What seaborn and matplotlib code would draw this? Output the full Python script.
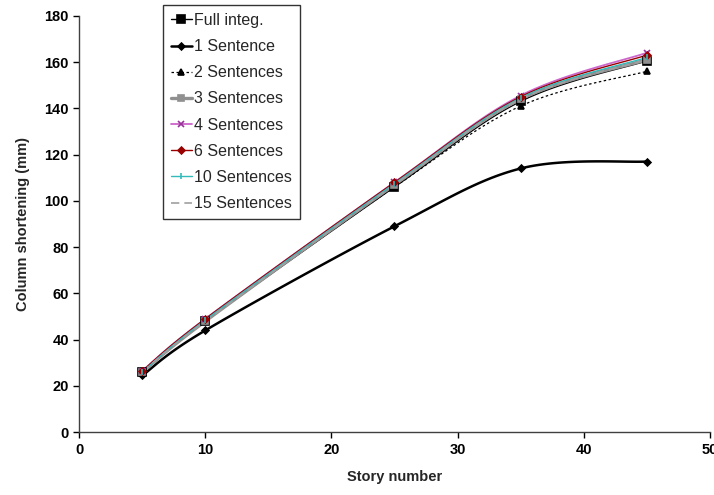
import numpy as np
import pandas as pd
import matplotlib
matplotlib.use("Agg")
import matplotlib.pyplot as plt
from matplotlib.lines import Line2D
import seaborn as sns

stories = [5, 10, 25, 35, 45]
full_integ = [26, 48, 106, 143, 160.5]
sent_1 = [24.5, 44, 89, 114, 117]
sent_2 = [26, 48, 106, 141, 156]
sent_3 = [26, 48, 107, 144, 161]
sent_4 = [26.5, 49, 108, 145.5, 164]
sent_6 = [26.5, 49, 108, 145, 163]
sent_10 = [26, 48.5, 107.5, 144.5, 162]
sent_15 = [26, 48, 107, 144, 161]

series = [
    ("Full integ.", full_integ, dict(color="black", lw=1.0, ls="-", marker="s", ms=6, mfc="black", mec="black")),
    ("1 Sentence", sent_1, dict(color="black", lw=1.8, ls="-", marker="D", ms=3.5, mfc="black", mec="black")),
    ("2 Sentences", sent_2, dict(color="black", lw=0.9, ls=(0, (2, 2)), marker="^", ms=5, mfc="black", mec="black")),
    ("3 Sentences", sent_3, dict(color="#909090", lw=2.4, ls="-", marker="s", ms=4, mfc="#909090", mec="#909090")),
    ("4 Sentences", sent_4, dict(color="#CC66CC", lw=1.3, ls="-", marker="x", ms=4, mfc="#993399", mec="#993399")),
    ("6 Sentences", sent_6, dict(color="#990000", lw=1.0, ls="-", marker="D", ms=3.5, mfc="#990000", mec="#990000")),
    ("10 Sentences", sent_10, dict(color="#33BBBB", lw=1.0, ls="-", marker="|", ms=5, mfc="#33BBBB", mec="#33BBBB")),
    ("15 Sentences", sent_15, dict(color="#A0A0A0", lw=1.2, ls=(0, (5, 3)), marker=None)),
]


def smooth(xs, ys, n=30):
    """Excel-style smoothed curve (cubic Bezier through data points)."""
    pts = np.column_stack([xs, ys]).astype(float)
    out = [pts[0]]
    m = len(pts)
    for i in range(m - 1):
        p0 = pts[i - 1] if i > 0 else pts[i]
        p1 = pts[i]
        p2 = pts[i + 1]
        p3 = pts[i + 2] if i + 2 < m else pts[i + 1]
        c1 = p1 + (p2 - p0) / 6.0
        c2 = p2 - (p3 - p1) / 6.0
        t = np.linspace(0, 1, n)[1:, None]
        b = ((1 - t) ** 3) * p1 + 3 * ((1 - t) ** 2) * t * c1 + 3 * (1 - t) * t ** 2 * c2 + t ** 3 * p2
        out.extend(b)
    out = np.array(out)
    return out[:, 0], out[:, 1]


sns.set_style("ticks")
plt.rcParams["font.family"] = ["Liberation Sans", "DejaVu Sans"]

fig = plt.figure(figsize=(7.14, 4.95), dpi=100)
ax = fig.add_axes([0.111, 0.127, 0.883, 0.841])

handles = []
for name, vals, st in series:
    sx, sy = smooth(stories, vals)
    sns.lineplot(x=sx, y=sy, ax=ax, color=st["color"], lw=st["lw"], ls=st["ls"],
                 sort=False, estimator=None, legend=False, zorder=3)
    if st.get("marker"):
        ax.plot(stories, vals, ls="none", marker=st["marker"], ms=st["ms"],
                mfc=st["mfc"], mec=st["mec"], mew=1.2, zorder=4)
    handles.append(Line2D([0], [0], color=st["color"], lw=st["lw"], ls=st["ls"],
                          marker=st.get("marker"), ms=st.get("ms", 0),
                          mfc=st.get("mfc"), mec=st.get("mec"), mew=1.2))

ax.set_xlim(0, 50)
ax.set_ylim(0, 180)
ax.set_xticks(range(0, 51, 10))
ax.set_yticks(range(0, 181, 20))
ax.tick_params(direction="out", length=4, width=1, colors="black", labelsize=10.5)
for lab in ax.get_xticklabels() + ax.get_yticklabels():
    lab.set_fontweight("bold")
for s in ["top", "right"]:
    ax.spines[s].set_visible(False)
for s in ["left", "bottom"]:
    ax.spines[s].set_color("#404040")
    ax.spines[s].set_linewidth(1.0)
ax.set_xlabel("Story number", fontsize=10.5, fontweight="bold", labelpad=10)
ax.set_ylabel("Column shortening (mm)", fontsize=10.5, fontweight="bold", labelpad=10)

leg = fig.legend(handles, [s[0] for s in series], loc="upper left",
                 bbox_to_anchor=(0.228, 0.99), frameon=True, fancybox=False,
                 fontsize=11.5, handlelength=1.3, labelspacing=0.7,
                 borderpad=0.5, handletextpad=0.15, borderaxespad=0)
leg.get_frame().set_edgecolor("black")
leg.get_frame().set_linewidth(1.0)

fig.savefig("out.png", dpi=100)
